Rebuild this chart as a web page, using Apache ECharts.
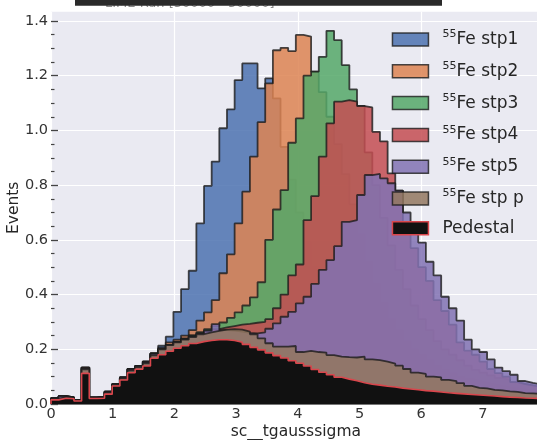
<!DOCTYPE html>
<html><head><meta charset="utf-8">
<script src="https://cdn.jsdelivr.net/npm/echarts@6/dist/echarts.min.js"></script>
<style>html,body{margin:0;padding:0;background:#fff}#c{width:537px;height:440px}</style>
</head><body><div id="c"></div>
<script>
// ---- data ----
const binWidth = 0.124;           // histogram bin width (x units)
const nBins = 64;
const xTicks = [0, 1, 2, 3, 4, 5, 6, 7];
const yTicks = [0, 0.2, 0.4, 0.6, 0.8, 1.0, 1.2, 1.4];
const yMinorTicks = [0.05,0.1,0.15,0.25,0.3,0.35,0.45,0.5,0.55,0.65,0.7,0.75,0.85,0.9,0.95,1.05,1.1,1.15,1.25,1.3,1.35];
const seriesNames = ['55Fe stp1','55Fe stp2','55Fe stp3','55Fe stp4','55Fe stp5','55Fe stp p','Pedestal'];

const stp1 = [0.021,0.029,0.024,0.015,0.133,0.024,0.026,0.045,0.073,0.097,0.128,0.139,0.155,0.185,
  0.213,0.246,0.337,0.42,0.487,0.66,0.797,0.886,1.008,1.077,1.184,1.245,1.245,1.154,1.19,1.117,0.94,0.82,
  0.7,0.59,0.5,0.42,0.36,0.31,0.27,0.24,0.21,0.19,0.17,0.15,0.135,0.12,0.11,0.1,0.09,0.082,0.075,0.068,
  0.062,0.057,0.052,0.048,0.044,0.041,0.038,0.035,0.033,0.031,0.029,0.027];
const stp2 = [0.021,0.029,0.024,0.015,0.133,0.024,0.026,0.045,0.073,0.097,0.128,0.139,0.155,0.185,
  0.205,0.225,0.235,0.25,0.27,0.305,0.335,0.38,0.478,0.547,0.66,0.776,0.904,1.03,1.172,1.293,1.302,1.29,
  1.349,1.343,1.215,1.14,1.05,0.95,0.84,0.73,0.62,0.52,0.44,0.37,0.31,0.27,0.23,0.2,0.18,0.16,0.14,0.125,
  0.112,0.1,0.092,0.085,0.078,0.072,0.066,0.061,0.057,0.053,0.05,0.047];
const stp3 = [0.021,0.029,0.024,0.015,0.133,0.024,0.026,0.045,0.073,0.097,0.128,0.139,0.155,0.185,
  0.2,0.215,0.228,0.24,0.252,0.263,0.274,0.285,0.298,0.315,0.335,0.36,0.39,0.445,0.6,0.711,0.782,0.955,
  1.044,1.2,1.215,1.269,1.364,1.33,1.239,1.15,1.09,0.92,0.8,0.68,0.58,0.49,0.42,0.36,0.31,0.27,0.23,0.2,
  0.18,0.16,0.14,0.125,0.115,0.105,0.095,0.088,0.08,0.074,0.068,0.063];
const stp4 = [0.021,0.029,0.024,0.015,0.133,0.024,0.026,0.045,0.073,0.097,0.128,0.139,0.155,0.185,
  0.2,0.213,0.225,0.236,0.247,0.257,0.266,0.274,0.28,0.285,0.29,0.293,0.297,0.3,0.31,0.35,0.4,0.47,
  0.51,0.672,0.76,0.904,1.026,1.105,1.111,1.105,1.089,1.084,0.995,0.96,0.843,0.78,0.64,0.57,0.5,0.45,0.38,0.34,
  0.29,0.225,0.195,0.18,0.155,0.128,0.113,0.1,0.08,0.073,0.068,0.063];
const stp5 = [0.02,0.028,0.023,0.014,0.13,0.023,0.025,0.044,0.072,0.096,0.126,0.138,0.153,0.183,
  0.2,0.215,0.226,0.237,0.248,0.258,0.268,0.292,0.27,0.268,0.265,0.26,0.258,0.262,0.275,0.295,0.319,0.337,
  0.368,0.392,0.439,0.49,0.526,0.577,0.666,0.672,0.764,0.837,0.841,0.825,0.807,0.78,0.7,0.66,0.59,0.52,0.47,0.392,
  0.35,0.305,0.235,0.2,0.19,0.163,0.133,0.12,0.107,0.084,0.077,0.072];
const stpP = [0.019,0.026,0.022,0.013,0.127,0.022,0.024,0.041,0.07,0.093,0.122,0.134,0.149,0.178,
  0.2,0.215,0.225,0.235,0.245,0.255,0.262,0.267,0.272,0.274,0.272,0.265,0.255,0.24,0.222,0.21,0.21,0.212,
  0.19,0.194,0.19,0.188,0.179,0.173,0.171,0.17,0.173,0.163,0.16,0.155,0.148,0.14,0.128,0.115,0.11,0.1,0.097,0.088,
  0.084,0.076,0.066,0.059,0.057,0.052,0.05,0.046,0.044,0.04,0.039,0.037];
const pedestal = [0.015,0.021,0.019,0.011,0.112,0.02,0.021,0.036,0.066,0.088,0.114,0.127,0.139,0.167,
  0.18,0.193,0.204,0.213,0.221,0.228,0.232,0.235,0.235,0.232,0.226,0.218,0.207,0.198,0.187,0.177,0.168,0.158,
  0.149,0.139,0.126,0.116,0.107,0.098,0.091,0.085,0.078,0.072,0.069,0.065,0.062,0.058,0.055,0.052,0.049,0.047,0.044,0.041,
  0.039,0.037,0.035,0.033,0.031,0.029,0.027,0.025,0.024,0.022,0.021,0.02];

// ---- styling ----
const fills = ['rgba(76,114,176,0.85)','rgba(221,132,82,0.85)','rgba(85,168,104,0.85)','rgba(196,78,82,0.85)',
  'rgba(129,114,179,0.85)','rgba(147,120,96,0.85)','rgba(17,17,17,1)'];
const edges = ['rgba(28,28,28,0.8)','rgba(28,28,28,0.8)','rgba(28,28,28,0.8)','rgba(28,28,28,0.8)',
  'rgba(28,28,28,0.8)','rgba(28,28,28,0.8)','#d9464c'];
const allData = [stp1, stp2, stp3, stp4, stp5, stpP, pedestal];

function stepPoints(vals) {
  const pts = [[0, 0]];
  vals.forEach((v, i) => pts.push([i * binWidth, v]));
  pts.push([vals.length * binWidth, 0]);
  return pts;
}

const chart = echarts.init(document.getElementById('c'), null, {renderer: 'canvas'});
const font = 'DejaVu Sans';
chart.setOption({
  animation: false,
  backgroundColor: '#ffffff',
  textStyle: {fontFamily: font},
  grid: {left: 51, top: 11.7, width: nBins * binWidth * 61.7, height: 392.3, show: true,
         backgroundColor: '#EAEAF2', borderWidth: 0, containLabel: false, outerBoundsMode: 'none'},
  xAxis: {
    type: 'value', min: 0, max: nBins * binWidth,
    name: 'sc__tgausssigma', nameLocation: 'middle', nameGap: 20, nameMoveOverlap: false,
    nameTextStyle: {fontSize: 15.5, color: '#262626', fontFamily: font},
    axisLine: {show: true, onZero: false, lineStyle: {color: '#4a4a4a', width: 1.5}},
    axisTick: {show: false},
    axisLabel: {customValues: xTicks, fontSize: 14.5, color: '#333', margin: 3, fontFamily: font},
    splitLine: {show: true, lineStyle: {color: '#ffffff', width: 1.2}}
  },
  yAxis: [{
    type: 'value', min: 0, max: 1.434,
    name: 'Events', nameLocation: 'middle', nameGap: 29, nameMoveOverlap: false,
    nameTextStyle: {fontSize: 15.5, color: '#262626', fontFamily: font},
    axisLine: {show: false},
    axisTick: {show: true, inside: true, length: 7, customValues: yTicks, lineStyle: {color: '#444', width: 1.3}},
    axisLabel: {customValues: yTicks, formatter: v => v.toFixed(1), fontSize: 14.5, color: '#333', margin: 3, fontFamily: font},
    splitLine: {show: true, lineStyle: {color: '#ffffff', width: 1.2}}
  }, {
    type: 'value', min: 0, max: 1.434, position: 'left',
    axisLine: {show: false},
    axisTick: {show: true, inside: true, length: 3.5, customValues: yMinorTicks, lineStyle: {color: '#444', width: 1.2}},
    axisLabel: {show: false},
    splitLine: {show: false}
  }],
  legend: {
    orient: 'vertical', left: 391.7, top: 29, padding: 0, icon: 'rect',
    itemWidth: 36, itemHeight: 13, itemGap: 12.8,
    selectedMode: false,
    data: seriesNames.map((n, i) => ({name: n, itemStyle: {color: fills[i], borderColor: edges[i], borderWidth: 1.5}})),
    formatter: name => name.startsWith('55') ? '{sup|55}{t|' + name.slice(2) + '}' : '{t|' + name + '}',
    textStyle: {
      color: '#262626', fontFamily: font, fontSize: 17, padding: [0, 0, 0, 9],
      rich: {
        sup: {fontSize: 11, color: '#262626', fontFamily: font, verticalAlign: 'top', lineHeight: 21},
        t: {fontSize: 17, color: '#262626', fontFamily: font, lineHeight: 13}
      }
    }
  },
  graphic: [
    {type: 'text', x: 105, y: 10.5, z: 10, style: {text: 'LIME Run [50000 - 50000]', fill: '#8a8a8a', font: '13px "DejaVu Sans"', verticalAlign: 'bottom'}},
    {type: 'rect', shape: {x: 75, y: 0, width: 367, height: 5.7}, z: 11, style: {fill: '#2a2a2a'}}
  ],
  series: seriesNames.map((n, i) => ({
    type: 'line', name: n, step: 'end', symbol: 'none', showSymbol: false,
    data: stepPoints(allData[i]),
    lineStyle: {color: edges[i], width: i === 6 ? 1.6 : 1.8},
    itemStyle: {color: fills[i]},
    areaStyle: {color: fills[i], opacity: 1},
    emphasis: {disabled: true},
    z: 2 + i * 0.01
  }))
});
</script></body></html>
